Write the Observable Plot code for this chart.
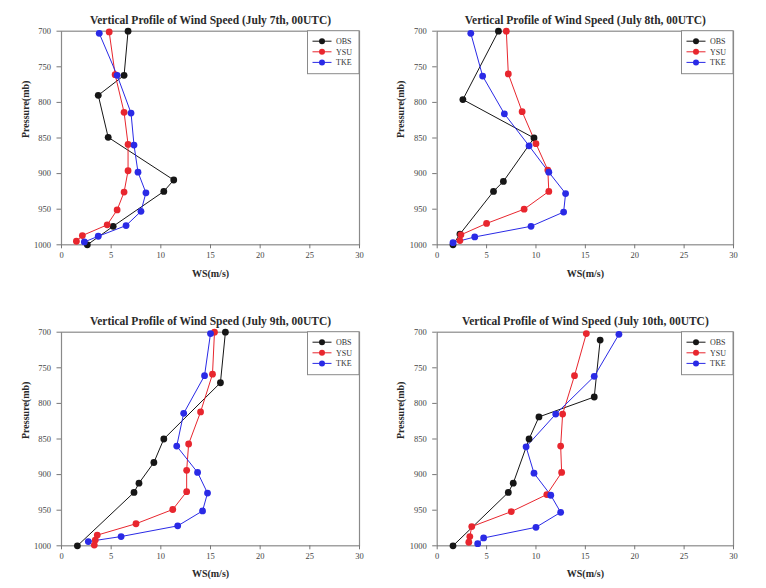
<!DOCTYPE html>
<html>
<head>
<meta charset="utf-8">
<script src="https://cdn.jsdelivr.net/npm/d3@7"></script>
<script src="https://cdn.jsdelivr.net/npm/@observablehq/plot@0.6"></script>
<style>
  html, body { margin: 0; padding: 0; background: #fff; }
  #wrap { position: relative; width: 766px; height: 588px; overflow: hidden; background: #fff; }
  .panel { position: absolute; }
  .panel svg { overflow: visible; }
</style>
</head>
<body>
<div id="wrap"></div>
<script>
// ---- Data ----
const titles = [
  "Vertical Profile of Wind Speed (July 7th, 00UTC)",
  "Vertical Profile of Wind Speed (July 8th, 00UTC)",
  "Vertical Profile of Wind Speed (July 9th, 00UTC)",
  "Vertical Profile of Wind Speed (July 10th, 00UTC)"
];
const seriesNames = ["OBS", "YSU", "TKE"];
const seriesColors = ["#161616", "#e8262e", "#2a2ae6"];
const xTicks = [0, 5, 10, 15, 20, 25, 30];
const yTicks = [700, 750, 800, 850, 900, 950, 1000];

// July 7th
const obs7P  = [700, 762, 790, 849, 909, 925, 974, 1000];
const obs7WS = [6.7, 6.3, 3.7, 4.7, 11.3, 10.3, 5.2, 2.6];
const ysu7P  = [701, 761, 814, 859, 896, 926, 951, 972, 987, 995];
const ysu7WS = [4.8, 5.4, 6.3, 6.7, 6.7, 6.3, 5.6, 4.6, 2.1, 1.5];
const tke7P  = [703, 762, 815, 860, 898, 927, 953, 973, 988, 996];
const tke7WS = [3.8, 5.6, 7.0, 7.3, 7.7, 8.5, 8.0, 6.5, 3.7, 2.3];

// July 8th
const obs8P  = [700, 796, 850, 911, 925, 985, 1000];
const obs8WS = [6.2, 2.6, 9.8, 6.7, 5.7, 2.3, 1.6];
const ysu8P  = [700, 760, 813, 858, 895, 925, 950, 970, 986, 994];
const ysu8WS = [7.0, 7.2, 8.6, 10.0, 11.2, 11.3, 8.8, 5.0, 2.4, 2.3];
const tke8P  = [703, 763, 816, 861, 898, 928, 954, 974, 989, 997];
const tke8WS = [3.4, 4.6, 6.8, 9.3, 11.3, 13.0, 12.8, 9.5, 3.8, 1.6];

// July 9th
const obs9P  = [700, 771, 850, 883, 912, 925, 1000];
const obs9WS = [16.5, 16.0, 10.3, 9.3, 7.8, 7.3, 1.6];
const ysu9P  = [700, 759, 812, 857, 894, 924, 949, 969, 985, 992, 999];
const ysu9WS = [15.4, 15.2, 14.0, 12.8, 12.6, 12.6, 11.2, 7.5, 3.6, 3.4, 3.3];
const tke9P  = [702, 761, 814, 860, 897, 926, 951, 972, 987, 994];
const tke9WS = [15.0, 14.4, 12.3, 11.6, 13.7, 14.7, 14.2, 11.7, 6.0, 2.7];

// July 10th
const obs10P  = [711, 791, 819, 850, 912, 925, 1000];
const obs10WS = [16.5, 15.9, 10.3, 9.3, 7.7, 7.2, 1.6];
const ysu10P  = [702, 761, 815, 860, 897, 928, 952, 973, 987, 995];
const ysu10WS = [15.1, 13.9, 12.7, 12.5, 12.6, 11.1, 7.5, 3.5, 3.3, 3.2];
const tke10P  = [703, 762, 815, 861, 898, 929, 953, 974, 989, 997];
const tke10WS = [18.4, 15.9, 12.0, 9.0, 9.8, 11.5, 12.5, 10.0, 4.7, 4.1];

// ---- build tables ----
function toRows(series, P, WS) { return P.map((p, i) => ({series, p, ws: WS[i]})); }
const days = [
  [toRows("OBS", obs7P, obs7WS), toRows("YSU", ysu7P, ysu7WS), toRows("TKE", tke7P, tke7WS)],
  [toRows("OBS", obs8P, obs8WS), toRows("YSU", ysu8P, ysu8WS), toRows("TKE", tke8P, tke8WS)],
  [toRows("OBS", obs9P, obs9WS), toRows("YSU", ysu9P, ysu9WS), toRows("TKE", tke9P, tke9WS)],
  [toRows("OBS", obs10P, obs10WS), toRows("YSU", ysu10P, ysu10WS), toRows("TKE", tke10P, tke10WS)]
];

const FONT = "'Liberation Serif', 'DejaVu Serif', serif";

// panel layout: [left, top, width, height, marginLeft, marginRight, marginTop, marginBottom]
const layout = [
  [0,   0,   383, 290, 61,   24, 30.7, 45.7],
  [383, 0,   383, 290, 53.7, 33, 30.7, 45.7],
  [0,   300, 383, 288, 61,   24, 31.7, 42.7],
  [383, 300, 383, 288, 53.7, 33, 31.7, 42.7]
];

function legendMark(index, scales, values, dims) {
  const right = dims.width - dims.marginRight;
  const top = dims.marginTop;
  const g = d3.create("svg:g").attr("font-family", FONT).attr("text-anchor", "start");
  const bw = 51.5, bh = 43;
  g.append("rect").attr("x", right - bw).attr("y", top).attr("width", bw).attr("height", bh)
    .attr("fill", "white").attr("stroke", "#8a8a8a").attr("stroke-width", 1);
  seriesNames.forEach((name, i) => {
    const yy = top + 10.5 + i * 10.6;
    const x0 = right - bw;
    g.append("line").attr("x1", x0 + 5).attr("x2", x0 + 24).attr("y1", yy).attr("y2", yy)
      .attr("stroke", seriesColors[i]).attr("stroke-width", 1);
    g.append("circle").attr("cx", x0 + 14.5).attr("cy", yy).attr("r", 3)
      .attr("fill", seriesColors[i]);
    g.append("text").attr("x", x0 + 28.5).attr("y", yy).attr("dy", "0.35em")
      .attr("text-anchor", "start")
      .attr("font-size", 8).attr("fill", "#333").text(name);
  });
  return g.node();
}

const wrap = document.getElementById("wrap");
days.forEach((tables, k) => {
  const [L, T, W, H, ml, mr, mt, mb] = layout[k];
  const marks = [
    Plot.frame({stroke: "#8a8a8a", strokeWidth: 1.2}),
    Plot.axisX({ticks: xTicks, tickFormat: d => String(d), tickSize: 4, tickPadding: 3, fontSize: 8.5, fill: "#444", stroke: "#777", label: null}),
    Plot.axisY({ticks: yTicks, tickFormat: d => String(d), tickSize: 4.5, tickPadding: 6, fontSize: 8.5, fill: "#444", stroke: "#777", label: null}),
    ...tables.map((rows, i) => Plot.line(rows, {x: "ws", y: "p", stroke: seriesColors[i], strokeWidth: 1})),
    ...tables.map((rows, i) => Plot.dot(rows, {x: "ws", y: "p", fill: seriesColors[i], r: 3.4})),
    Plot.text([titles[k]], {frameAnchor: "top", dy: -15.5, fontSize: 11.5, fontWeight: "bold", fill: "#2a2a2a", text: d => d}),
    Plot.text(["WS(m/s)"], {frameAnchor: "bottom", dy: k < 2 ? 32 : 31, fontSize: 10, fontWeight: "bold", fill: "#2a2a2a", text: d => d}),
    Plot.text(["Pressure(mb)"], {frameAnchor: "left", dx: -36, rotate: -90, fontSize: 10, fontWeight: "bold", fill: "#2a2a2a", text: d => d}),
    legendMark
  ];
  const chart = Plot.plot({
    width: W, height: H,
    marginLeft: ml, marginRight: mr, marginTop: mt, marginBottom: mb,
    style: {fontFamily: FONT, background: "transparent", overflow: "visible"},
    x: {domain: [0, 30]},
    y: {domain: [700, 1000], reverse: true},
    marks
  });
  const div = document.createElement("div");
  div.className = "panel";
  div.style.left = L + "px";
  div.style.top = T + "px";
  div.appendChild(chart);
  wrap.appendChild(div);
});
</script>
</body>
</html>
